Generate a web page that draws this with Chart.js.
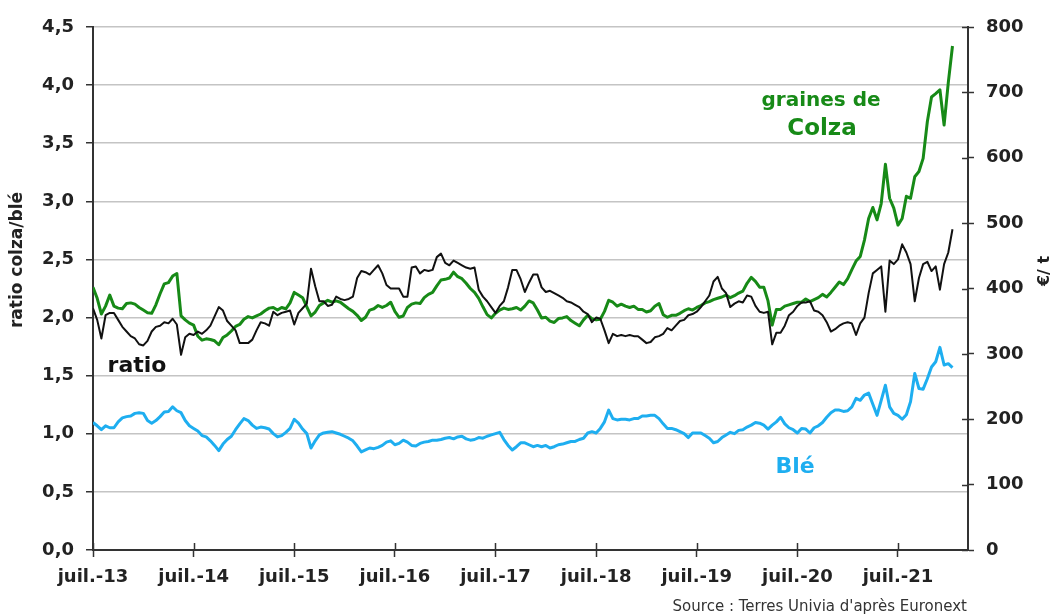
<!DOCTYPE html>
<html>
<head>
<meta charset="utf-8">
<script src="https://cdn.jsdelivr.net/npm/chart.js@4"></script>
<style>
  html, body { margin: 0; padding: 0; background: #fff; }
  #wrap { width: 1056px; height: 614px; }
</style>
</head>
<body>
<div id="wrap"><canvas id="chart" width="1056" height="614"></canvas></div>
<script>
// time axis: one point every half month from juil.-13
const stepMonths = 0.5;
const tickMonths = [0, 12, 24, 36, 48, 60, 72, 84, 96];
const tickLabels = ['juil.-13', 'juil.-14', 'juil.-15', 'juil.-16', 'juil.-17', 'juil.-18', 'juil.-19', 'juil.-20', 'juil.-21'];

// graines de colza, €/t (right axis)
const colza = [
  402, 385, 361, 373, 390, 373, 370, 369, 377, 378,
  376, 371, 367, 363, 362, 375, 392, 407, 409, 419,
  423, 358, 352, 347, 344, 327, 321, 323, 322, 320,
  314, 325, 329, 335, 342, 345, 353, 357, 355, 358,
  361, 366, 370, 371, 367, 371, 369, 378, 394, 390,
  386, 372, 358, 364, 374, 378, 382, 379, 381, 379,
  374, 369, 365, 359, 351, 356, 367, 369, 374, 371,
  374, 379, 365, 356, 358, 371, 376, 378, 377, 386,
  391, 394, 404, 413, 414, 416, 425, 418, 415, 408,
  400, 394, 385, 372, 360, 355, 362, 367, 370, 368,
  369, 371, 367, 373, 381, 378, 367, 355, 356, 350,
  348, 354, 355, 357, 351, 347, 343, 352, 359, 354,
  352, 353, 365, 382, 379, 373, 376, 373, 371, 373,
  368, 368, 364, 366, 373, 377, 360, 356, 359, 359,
  362, 366, 369, 367, 371, 374, 378, 380, 383, 385,
  387, 390, 386, 389, 393, 396, 408, 417, 411, 402,
  402, 381, 344, 368, 368, 373, 375, 377, 379, 379,
  384, 380, 383, 386, 391, 387, 394, 402, 410, 406,
  415, 429, 442, 449, 474, 507, 524, 505, 530, 590,
  538, 523, 497, 507, 541, 538, 571, 579, 599, 655,
  693, 698, 704, 650, 715, 771
];

// blé, €/t (right axis)
const ble = [
  195, 190, 184, 190, 187, 187, 196, 202, 204, 205,
  209, 210, 209, 198, 194, 198, 204, 211, 212, 219,
  213, 210, 198, 190, 186, 182, 175, 173, 167, 160,
  152, 162, 169, 174, 184, 193, 201, 198, 191, 186,
  188, 187, 185, 178, 173, 175, 180, 186, 200, 194,
  185, 178, 156, 167, 176, 179, 180, 181, 179, 177,
  174, 171, 167, 159, 150, 153, 156, 155, 157, 160,
  165, 167, 161, 163, 168, 165, 160, 159, 163, 165,
  166, 168, 168, 169, 171, 172, 170, 173, 174, 170,
  168, 169, 172, 171, 174, 176, 178, 180, 169, 160,
  153, 158, 164, 164, 161, 158, 160, 158, 160, 156,
  158, 161, 162, 164, 166, 166, 169, 171, 179, 181,
  179, 186, 196, 214, 201, 199, 200, 200, 199, 201,
  201, 205, 205, 206, 206, 201, 193, 186, 186, 184,
  181, 178, 172, 179, 179, 179, 175, 171, 164, 166,
  172, 176, 180, 178, 183, 184, 188, 191, 195, 194,
  191, 185, 191, 196, 203, 193, 187, 184, 179, 186,
  185, 179, 187, 190, 195, 203, 210, 214, 214, 212,
  213, 219, 232, 229, 237, 240, 223, 206, 229, 252,
  219, 209, 206, 200, 207, 227, 270, 247, 246, 262,
  280, 288, 310, 283, 285, 279
];

// ratio colza/blé (left axis)
const ratio = [
  2.08, 1.98, 1.82, 2.02, 2.04, 2.04, 1.98, 1.92, 1.88, 1.84,
  1.82, 1.77, 1.76, 1.80, 1.88, 1.92, 1.93, 1.96, 1.95, 1.99,
  1.94, 1.68, 1.83, 1.86, 1.85, 1.88, 1.86, 1.89, 1.93, 2.01,
  2.09, 2.06, 1.97, 1.93, 1.89, 1.78, 1.78, 1.78, 1.81, 1.89,
  1.96, 1.95, 1.93, 2.05, 2.02, 2.04, 2.05, 2.06, 1.94, 2.04,
  2.08, 2.12, 2.42, 2.27, 2.14, 2.14, 2.10, 2.11, 2.18, 2.16,
  2.15, 2.16, 2.18, 2.34, 2.40, 2.39, 2.37, 2.41, 2.45, 2.38,
  2.28, 2.25, 2.25, 2.25, 2.18, 2.18, 2.43, 2.44, 2.38, 2.41,
  2.40, 2.41, 2.52, 2.55, 2.47, 2.45, 2.49, 2.47, 2.45, 2.43,
  2.42, 2.43, 2.24, 2.18, 2.14, 2.09, 2.04, 2.10, 2.14, 2.26,
  2.41, 2.41, 2.33, 2.22, 2.30, 2.37, 2.37, 2.26, 2.22, 2.23,
  2.21, 2.19, 2.17, 2.14, 2.13, 2.11, 2.09, 2.05, 2.03, 1.96,
  2.00, 1.99, 1.89, 1.78, 1.86, 1.84, 1.85, 1.84, 1.85, 1.84,
  1.84, 1.81, 1.78, 1.79, 1.83, 1.84, 1.86, 1.91, 1.89, 1.93,
  1.97, 1.98, 2.02, 2.03, 2.05, 2.09, 2.14, 2.19, 2.31, 2.35,
  2.25, 2.21, 2.09, 2.12, 2.14, 2.13, 2.19, 2.18, 2.10, 2.05,
  2.04, 2.05, 1.77, 1.87, 1.87, 1.93, 2.02, 2.05, 2.10, 2.13,
  2.13, 2.14, 2.06, 2.05, 2.02, 1.96, 1.88, 1.90, 1.93, 1.95,
  1.96, 1.95, 1.85, 1.95, 2.00, 2.21, 2.38, 2.41, 2.44, 2.05,
  2.49, 2.46, 2.50, 2.63, 2.56, 2.46, 2.14, 2.34, 2.46, 2.48,
  2.40, 2.44, 2.24, 2.46, 2.56, 2.76
];

const GREEN = '#178a17';
const BLUE = '#1eaef0';
const AXIS = '#333333';
const FONT = "'DejaVu Sans', sans-serif";

function toPoints(arr) {
  return arr.map((v, i) => ({ x: i * stepMonths, y: v }));
}

// extra drawing: white background, inner ticks, axis titles, labels, source
const extras = {
  id: 'extras',
  beforeDraw(chart) {
    const ctx = chart.ctx;
    ctx.save();
    ctx.fillStyle = '#fff';
    ctx.fillRect(0, 0, chart.width, chart.height);
    ctx.restore();
  },
  afterDraw(chart) {
    const { ctx, chartArea, scales } = chart;
    ctx.save();
    ctx.strokeStyle = AXIS;
    ctx.lineWidth = 1.5;
    ctx.beginPath();
    scales.x.ticks.forEach(t => {
      const px = Math.round(scales.x.getPixelForValue(t.value)) + 0.5;
      ctx.moveTo(px, chartArea.bottom - 7);
      ctx.lineTo(px, chartArea.bottom);
    });
    scales.y1.ticks.forEach(t => {
      const py = Math.round(scales.y1.getPixelForValue(t.value)) + 0.5;
      ctx.moveTo(chartArea.right - 6, py);
      ctx.lineTo(chartArea.right, py);
    });
    ctx.stroke();

    ctx.textAlign = 'center';
    ctx.textBaseline = 'middle';

    // axis titles
    ctx.fillStyle = '#222';
    ctx.font = 'bold 17px ' + FONT;
    ctx.save();
    ctx.translate(18, 260);
    ctx.rotate(-Math.PI / 2);
    ctx.fillText('ratio colza/blé', 0, 0);
    ctx.restore();

    ctx.font = 'bold 16px ' + FONT;
    ctx.save();
    ctx.translate(1045, 271);
    ctx.rotate(-Math.PI / 2);
    ctx.fillText('€/ t', 0, 0);
    ctx.restore();

    // series labels
    ctx.fillStyle = GREEN;
    ctx.font = 'bold 20px ' + FONT;
    ctx.fillText('graines de', 821, 101);
    ctx.font = 'bold 23px ' + FONT;
    ctx.fillText('Colza', 822, 129);

    ctx.fillStyle = '#111';
    ctx.font = 'bold 22px ' + FONT;
    ctx.fillText('ratio', 137, 366);

    ctx.fillStyle = BLUE;
    ctx.fillText('Blé', 795, 467);

    // source
    ctx.fillStyle = '#333';
    ctx.font = '15px ' + FONT;
    ctx.textAlign = 'right';
    ctx.textBaseline = 'alphabetic';
    ctx.fillText("Source : Terres Univia d'après Euronext", 967, 611);
    ctx.restore();
  }
};

new Chart(document.getElementById('chart'), {
  type: 'line',
  data: {
    datasets: [
      { label: 'ratio', data: toPoints(ratio), yAxisID: 'y', borderColor: '#111', borderWidth: 2, order: 0 },
      { label: 'graines de Colza', data: toPoints(colza), yAxisID: 'y1', borderColor: GREEN, borderWidth: 3, order: 1 },
      { label: 'Blé', data: toPoints(ble), yAxisID: 'y1', borderColor: BLUE, borderWidth: 3, order: 2 }
    ]
  },
  options: {
    responsive: false,
    devicePixelRatio: 1,
    animation: false,
    layout: { padding: { top: 27, left: 0, right: 0, bottom: 0 } },
    elements: {
      point: { radius: 0 },
      line: { tension: 0, borderJoinStyle: 'round' }
    },
    plugins: { legend: { display: false }, tooltip: { enabled: false } },
    scales: {
      x: {
        type: 'linear',
        min: 0,
        max: 104.35,
        afterBuildTicks: axis => { axis.ticks = tickMonths.map(v => ({ value: v })); },
        afterFit: axis => { axis.height = 64; },
        grid: { drawOnChartArea: false, drawTicks: true, tickLength: 7, tickColor: AXIS, tickWidth: 1.5 },
        border: { display: true, color: AXIS, width: 2 },
        ticks: {
          autoSkip: false,
          maxRotation: 0,
          padding: 10,
          color: '#222',
          font: { family: FONT, size: 18, weight: 'bold' },
          callback: v => tickLabels[tickMonths.indexOf(v)]
        }
      },
      y: {
        position: 'left',
        min: 0,
        max: 4.5,
        afterFit: axis => { axis.width = 93; },
        grid: { color: '#c4c4c4', lineWidth: 1.5, tickLength: 7, tickColor: AXIS, tickWidth: 1.5 },
        border: { display: true, color: AXIS, width: 2 },
        ticks: {
          stepSize: 0.5,
          padding: 12,
          color: '#222',
          font: { family: FONT, size: 18, weight: 'bold' },
          callback: v => v.toFixed(1).replace('.', ',')
        }
      },
      y1: {
        position: 'right',
        min: 0,
        max: 800,
        afterFit: axis => { axis.width = 88; },
        grid: { drawOnChartArea: false, tickLength: 6, tickColor: AXIS, tickWidth: 1.5 },
        border: { display: true, color: AXIS, width: 2 },
        ticks: {
          stepSize: 100,
          padding: 12,
          color: '#222',
          font: { family: FONT, size: 18, weight: 'bold' }
        }
      }
    }
  },
  plugins: [extras]
});
</script>
</body>
</html>
